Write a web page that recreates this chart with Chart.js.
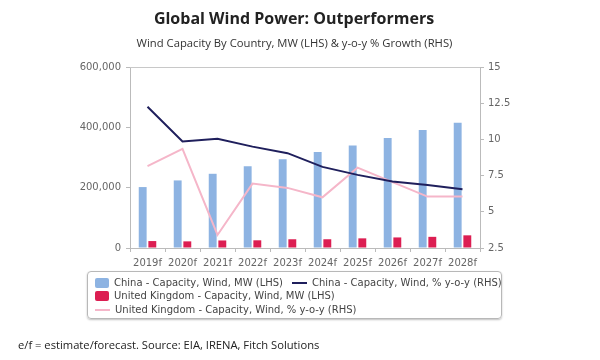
<!DOCTYPE html>
<html>
<head>
<meta charset="utf-8">
<script src="https://cdn.jsdelivr.net/npm/chart.js@4.4.1/dist/chart.umd.min.js"></script>
<style>
  html, body { margin: 0; padding: 0; background: #fff; }
  #wrap { position: relative; width: 600px; height: 360px; overflow: hidden; font-family: "Open Sans", sans-serif; }
  #c { position: absolute; left: 0; top: 0; }
  .title { position: absolute; left: 0; width: 588px; text-align: center; top: 7px; font-size: 16px; font-weight: bold; color: #222; }
  .subtitle { position: absolute; left: 0; width: 589px; text-align: center; top: 35px; font-size: 11.25px; color: #333; }
  .legend { position: absolute; left: 87px; top: 271px; width: 415px; height: 48px; border: 1px solid #b8b8b8; border-radius: 4px; box-shadow: 0 1px 2px rgba(0,0,0,0.25); font-family: "DejaVu Sans", sans-serif; font-size: 10px; color: #444; box-sizing: border-box; }
  .row { position: absolute; left: 7px; height: 14px; line-height: 14px; white-space: nowrap; }
  .item { display: inline-block; vertical-align: middle; }
  .sw { display: inline-block; width: 14px; height: 10px; border-radius: 2px; vertical-align: middle; margin-right: 5px; }
  .ln { display: inline-block; width: 15px; height: 2px; vertical-align: middle; margin-right: 5px; }
  .footer { position: absolute; left: 18px; top: 337px; font-size: 11.2px; color: #222; }
</style>
</head>
<body>
<div id="wrap">
  <canvas id="c" width="600" height="360"></canvas>
  <div class="title">Global Wind Power: Outperformers</div>
  <div class="subtitle">Wind Capacity By Country, MW (LHS) &amp; y-o-y % Growth (RHS)</div>
  <div class="legend" id="legend"></div>
  <div class="footer">e/f = estimate/forecast. Source: EIA, IRENA, Fitch Solutions</div>
</div>
<script>
const categories = ["2019f","2020f","2021f","2022f","2023f","2024f","2025f","2026f","2027f","2028f"];
const chinaCapacity = [202000, 224000, 246000, 271000, 294000, 318000, 340000, 365000, 391000, 415000];
const ukCapacity = [23000, 22000, 25000, 25500, 29000, 29000, 32000, 35000, 37000, 42000];
const chinaGrowth = [12.25, 9.85, 10.05, 9.5, 9.05, 8.1, 7.55, 7.1, 6.85, 6.55];
const ukGrowth = [8.15, 9.35, 3.4, 6.95, 6.65, 6.0, 8.05, 7.05, 6.05, 6.05];
const leftTicks = [0, 200000, 400000, 600000];
const rightTicks = [2.5, 5, 7.5, 10, 12.5, 15];

const seriesNames = [
  "China - Capacity, Wind, MW (LHS)",
  "China - Capacity, Wind, % y-o-y (RHS)",
  "United Kingdom - Capacity, Wind, MW (LHS)",
  "United Kingdom - Capacity, Wind, % y-o-y (RHS)"
];
const colors = { chinaBar: "#8db3e2", ukBar: "#dc1e52", chinaLine: "#1f1f5c", ukLine: "#f5b6c9" };

const borderPlugin = {
  id: "areaBorder",
  afterDraw(chart) {
    const a = chart.chartArea, ctx = chart.ctx;
    ctx.save();
    ctx.strokeStyle = "#c8c8c8";
    ctx.lineWidth = 1;
    ctx.beginPath();
    ctx.moveTo(a.left, a.top + 0.5);
    ctx.lineTo(a.right, a.top + 0.5);
    ctx.stroke();
    ctx.restore();
  }
};

const tickFont = { family: "DejaVu Sans", size: 10 };
const chart = new Chart(document.getElementById("c"), {
  type: "bar",
  data: {
    labels: categories,
    datasets: [
      { type: "line", label: seriesNames[1], data: chinaGrowth, yAxisID: "y1", borderColor: colors.chinaLine, backgroundColor: colors.chinaLine, borderWidth: 2, pointRadius: 0, tension: 0, order: 0 },
      { type: "line", label: seriesNames[3], data: ukGrowth, yAxisID: "y1", borderColor: colors.ukLine, backgroundColor: colors.ukLine, borderWidth: 2, pointRadius: 0, tension: 0, order: 1 },
      { type: "bar", label: seriesNames[0], data: chinaCapacity, yAxisID: "y", backgroundColor: colors.chinaBar, categoryPercentage: 0.55, barPercentage: 0.82, order: 2 },
      { type: "bar", label: seriesNames[2], data: ukCapacity, yAxisID: "y", backgroundColor: colors.ukBar, categoryPercentage: 0.55, barPercentage: 0.82, order: 3 }
    ]
  },
  options: {
    responsive: false,
    animation: false,
    layout: { padding: { left: 78, right: 80, top: 67, bottom: 92 } },
    plugins: { legend: { display: false }, tooltip: { enabled: false }, title: { display: false } },
    scales: {
      x: {
        offset: true,
        grid: { display: true, offset: true, drawOnChartArea: false, tickLength: 4, color: "#bbb" },
        border: { display: true, color: "#bbb" },
        ticks: { color: "#666", font: tickFont, maxRotation: 0, autoSkip: false, padding: 5 },
        afterFit(s) { s.height = 20; }
      },
      y: {
        position: "left",
        min: 0, max: 600000,
        afterBuildTicks(s) { s.ticks = leftTicks.map(v => ({ value: v })); },
        grid: { display: true, drawOnChartArea: false, tickLength: 4, color: "#bbb" },
        border: { display: true, color: "#bbb" },
        ticks: { color: "#666", font: tickFont, padding: 5, callback: v => v.toLocaleString("en-US") },
        afterFit(s) { s.width = 52; }
      },
      y1: {
        position: "right",
        min: 2.5, max: 15,
        afterBuildTicks(s) { s.ticks = rightTicks.map(v => ({ value: v })); },
        grid: { display: true, drawOnChartArea: false, tickLength: 4, color: "#bbb" },
        border: { display: true, color: "#bbb" },
        ticks: { color: "#666", font: tickFont, padding: 4, callback: v => String(v) },
        afterFit(s) { s.width = 40; }
      }
    }
  },
  plugins: [borderPlugin]
});

// HTML legend built from series names/colours
const legend = document.getElementById("legend");
function item(name, color, kind) {
  const sw = kind === "bar" ? `<span class="sw" style="background:${color}"></span>` : `<span class="ln" style="background:${color}"></span>`;
  return `<span class="item">${sw}<span>${name}</span></span>`;
}
legend.innerHTML =
  `<div class="row" style="top:4px">${item(seriesNames[0], colors.chinaBar, "bar")}<span style="display:inline-block;width:9px"></span>${item(seriesNames[1], colors.chinaLine, "line")}</div>` +
  `<div class="row" style="top:17px">${item(seriesNames[2], colors.ukBar, "bar")}</div>` +
  `<div class="row" style="top:31px">${item(seriesNames[3], colors.ukLine, "line")}</div>`;
</script>
</body>
</html>
